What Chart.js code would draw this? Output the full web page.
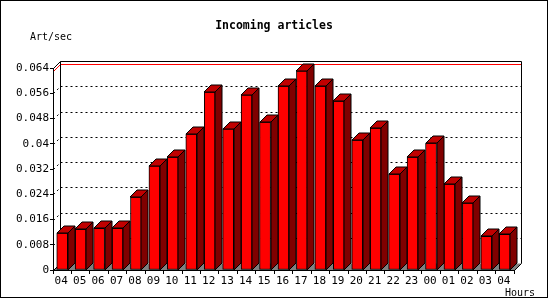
<!DOCTYPE html>
<html>
<head>
<meta charset="utf-8">
<title>Incoming articles</title>
<script src="https://cdn.jsdelivr.net/npm/chart.js@4"></script>
<style>
  html, body { margin: 0; padding: 0; background: #fff; }
  #chart { display: block; }
</style>
</head>
<body>
<canvas id="chart" width="550" height="300"></canvas>
<script>
// hours of the day (x axis)
const hours = ['04', '05', '06', '07', '08', '09', '10', '11', '12', '13', '14', '15', '16',
    '17', '18', '19', '20', '21', '22', '23', '00', '01', '02', '03', '04'];

// articles per second
const rates = [0.0117, 0.0129, 0.0132, 0.0132, 0.0231, 0.0330, 0.0358, 0.0431, 0.0564, 0.0447,
    0.0555, 0.0469, 0.0583, 0.0631, 0.0583, 0.0535, 0.0412, 0.0450, 0.0304, 0.0358,
    0.0402, 0.0272, 0.0212, 0.0107, 0.0113];

const yTicks = [0, 0.008, 0.016, 0.024, 0.032, 0.04, 0.048, 0.056, 0.064];
const yTickLabels = ['0', '0.008', '0.016', '0.024', '0.032', '0.04', '0.048', '0.056', '0.064'];

const DEPTH = 7;
const FONT = "'DejaVu Sans Mono', 'Liberation Mono', monospace";

function px(v) {
    return Math.round(v) + 0.5;
}

function line(ctx, x1, y1, x2, y2) {
    ctx.beginPath();
    ctx.moveTo(x1, y1);
    ctx.lineTo(x2, y2);
    ctx.stroke();
}

// back wall, floor, grid and the max line
const wallPlugin = {
    id: 'wall',
    beforeDraw(chart) {
        const ctx = chart.ctx;
        const area = chart.chartArea;
        const y = chart.scales.y;
        const l = px(area.left), r = px(area.right), b = px(area.bottom), t = px(area.top);

        ctx.save();
        ctx.lineWidth = 1;

        // outer frame of the picture
        ctx.strokeStyle = '#000';
        ctx.strokeRect(0.5, 0.5, 547, 297);

        // floor
        ctx.fillStyle = '#808080';
        ctx.beginPath();
        ctx.moveTo(l, b);
        ctx.lineTo(r, b);
        ctx.lineTo(r + DEPTH, b - DEPTH);
        ctx.lineTo(l + DEPTH, b - DEPTH);
        ctx.closePath();
        ctx.fill();

        // dashed grid on the back wall
        ctx.setLineDash([2, 3]);
        yTicks.forEach(v => {
            if (v <= 0 || v >= y.max) return;
            const yf = px(y.getPixelForValue(v));
            line(ctx, l + DEPTH, yf - DEPTH, r + DEPTH, yf - DEPTH);
            line(ctx, l, yf, l + DEPTH, yf - DEPTH);
        });
        ctx.setLineDash([]);

        // maximum line
        const top = px(y.getPixelForValue(Math.max(...rates)));
        ctx.strokeStyle = '#ff0000';
        line(ctx, l, top, l + DEPTH, top - DEPTH);
        line(ctx, l + DEPTH, top - DEPTH, r + DEPTH, top - DEPTH);

        // wall frame
        ctx.strokeStyle = '#000';
        ctx.beginPath();
        ctx.moveTo(l, t);
        ctx.lineTo(l + DEPTH, t - DEPTH);
        ctx.lineTo(r + DEPTH, t - DEPTH);
        ctx.lineTo(r + DEPTH, b - DEPTH);
        ctx.lineTo(r, b);
        ctx.stroke();
        line(ctx, l + DEPTH, t - DEPTH, l + DEPTH, b - DEPTH);
        line(ctx, l, b, l + DEPTH, b - DEPTH);

        // texts
        ctx.fillStyle = '#000';
        ctx.textBaseline = 'middle';
        ctx.font = 'bold 11.5px ' + FONT;
        ctx.textAlign = 'center';
        ctx.fillText('Incoming articles', 274, 26);
        ctx.font = '10px ' + FONT;
        ctx.textAlign = 'left';
        ctx.fillText('Art/sec', 30, 37);
        ctx.fillText('Hours', 505, 293);
        ctx.restore();
    },
    afterDatasetsDraw(chart) {
        // side and top faces of every bar
        const ctx = chart.ctx;
        const meta = chart.getDatasetMeta(0);
        ctx.save();
        ctx.lineWidth = 1;
        ctx.strokeStyle = '#000';
        meta.data.forEach(bar => {
            const p = bar.getProps(['x', 'y', 'base', 'width'], true);
            const left = Math.round(p.x - p.width / 2);
            const right = Math.round(p.x + p.width / 2);
            const top = Math.round(p.y);
            const base = Math.round(p.base);

            ctx.fillStyle = '#800000';
            ctx.beginPath();
            ctx.moveTo(right, top);
            ctx.lineTo(right + DEPTH, top - DEPTH);
            ctx.lineTo(right + DEPTH, base - DEPTH);
            ctx.lineTo(right, base);
            ctx.closePath();
            ctx.fill();
            ctx.stroke();

            ctx.fillStyle = '#c00000';
            ctx.beginPath();
            ctx.moveTo(left, top);
            ctx.lineTo(left + DEPTH, top - DEPTH);
            ctx.lineTo(right + DEPTH, top - DEPTH);
            ctx.lineTo(right, top);
            ctx.closePath();
            ctx.fill();
            ctx.stroke();
        });
        ctx.restore();
    }
};

Chart.defaults.font.family = FONT;
Chart.defaults.font.size = 11;
Chart.defaults.color = '#000';

new Chart(document.getElementById('chart').getContext('2d'), {
    type: 'bar',
    data: {
        labels: hours,
        datasets: [{
            label: 'Art/sec',
            data: rates,
            backgroundColor: '#ff0000',
            borderColor: '#000',
            borderWidth: 1,
            borderSkipped: false,
            barThickness: 11,
        }],
    },
    options: {
        responsive: false,
        animation: false,
        devicePixelRatio: 1,
        layout: {
            padding: { top: 68, right: 36, bottom: 0, left: 0 },
        },
        plugins: {
            legend: { display: false },
            tooltip: { enabled: false },
        },
        scales: {
            x: {
                offset: true,
                grid: {
                    offset: true,
                    drawOnChartArea: false,
                    tickLength: 4,
                    color: '#000',
                },
                border: { display: true, color: '#000' },
                ticks: {
                    autoSkip: false,
                    maxRotation: 0,
                    padding: 1,
                    labelOffset: -1,
                },
                afterFit: scale => { scale.height = 30; },
            },
            y: {
                min: 0,
                max: 0.064,
                grid: {
                    drawOnChartArea: false,
                    tickLength: 3,
                    color: '#000',
                },
                border: { display: true, color: '#000' },
                ticks: {
                    padding: 1,
                    callback: (value, index) => yTickLabels[index],
                },
                afterBuildTicks: scale => {
                    scale.ticks = yTicks.map(v => ({ value: v }));
                },
                afterFit: scale => { scale.width = 53; },
            },
        },
    },
    plugins: [wallPlugin],
});
</script>
</body>
</html>
